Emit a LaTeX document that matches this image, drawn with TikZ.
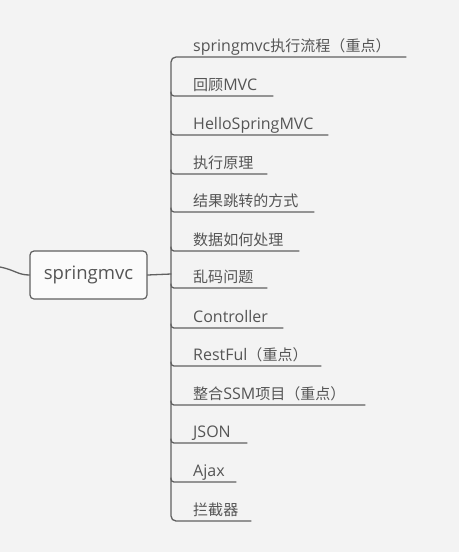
\documentclass[tikz,border=0pt]{standalone}
\usepackage{fontspec}
\setmainfont{Open Sans}
\newfontfamily\cjk[Scale=0.94]{Noto Sans CJK SC}
\newcommand{\zh}[1]{{\cjk #1}}
\definecolor{bg}{HTML}{F3F3F3}
\definecolor{ink}{HTML}{555555}
\definecolor{wire}{HTML}{606060}
\tikzset{
  leaf/.style={anchor=base west, inner sep=0pt, text=ink, font=\fontsize{16pt}{18pt}\selectfont},
  rootbox/.style={draw=wire, line width=1.2pt, fill=white!70!bg, rounded corners=4pt, text=ink,
    minimum width=117pt, minimum height=48pt, inner sep=0pt, font=\fontsize{18.5pt}{20pt}\selectfont},
  wireline/.style={draw=wire, line width=1.3pt, line cap=round},
}
\begin{document}
\begin{tikzpicture}[x=1pt,y=-1pt]
\fill[bg] (0,0) rectangle (459,552);
\useasboundingbox (0,0) rectangle (459,552);
\node[rootbox] (root) at (88.5,275) {springmvc};
\coordinate (edge) at (0,267);
\coordinate (tj) at (171,274);
% leaves
\node[leaf] (l1) at (193,51) {springmvc\zh{执行流程（重点）}};
\node[leaf] (l2) at (193,90) {\zh{回顾}MVC};
\node[leaf] (l3) at (193,129) {HelloSpringMVC};
\node[leaf] (l4) at (193,168) {\zh{执行原理}};
\node[leaf] (l5) at (193,206) {\zh{结果跳转的方式}};
\node[leaf] (l6) at (193,245) {\zh{数据如何处理}};
\node[leaf] (l7) at (193,282) {\zh{乱码问题}};
\node[leaf] (l8) at (193,322) {Controller};
\node[leaf] (l9) at (193,360) {RestFul\zh{（重点）}};
\node[leaf] (l10) at (193,399) {\zh{整合}SSM\zh{项目（重点）}};
\node[leaf] (l11) at (193,437) {JSON};
\node[leaf] (l12) at (193,476) {Ajax};
\node[leaf] (l13) at (193,515) {\zh{拦截器}};
% underline end points
\coordinate (e1) at (406,57);
\coordinate (e2) at (273,96);
\coordinate (e3) at (328,135);
\coordinate (e4) at (267,174);
\coordinate (e5) at (314,212);
\coordinate (e6) at (299,251);
\coordinate (e7) at (267,288);
\coordinate (e8) at (283,328);
\coordinate (e9) at (321,366);
\coordinate (e10) at (365,405);
\coordinate (e11) at (247,443);
\coordinate (e12) at (236,482);
\coordinate (e13) at (251,521);
% connectors
\draw[wireline] (edge) .. controls (15,270) and (18,275) .. (root.west);
\draw[wireline] (root.east) -- (tj);
\draw[wireline, rounded corners=5pt] (e1) -- (171,57) -- (171,521) -- (e13);
\foreach \i/\y in {2/96,3/135,4/174,5/212,6/251,7/288,8/328,9/366,10/405,11/443,12/482}{
  \draw[wireline, rounded corners=3pt] (171,\y-4) -- (171,\y) -- (e\i);
}
\end{tikzpicture}
\end{document}
